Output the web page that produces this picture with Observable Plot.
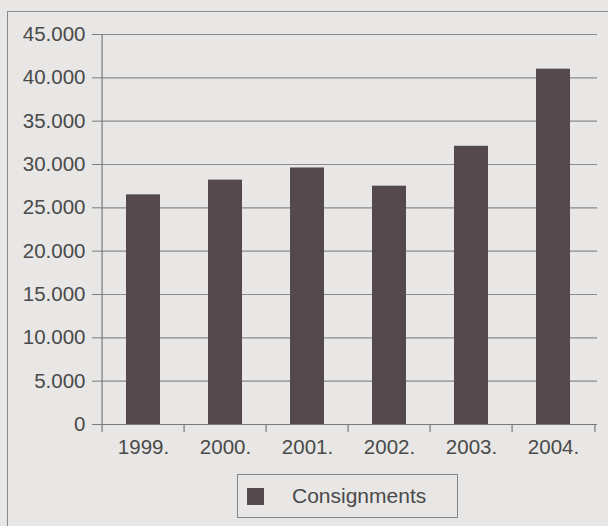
<!DOCTYPE html>
<html>
<head>
<meta charset="utf-8">
<script src="https://cdn.jsdelivr.net/npm/d3@7"></script>
<script src="https://cdn.jsdelivr.net/npm/@observablehq/plot@0.6"></script>
<style>
  html, body { margin: 0; padding: 0; background: #e8e7e5; overflow: hidden; width: 608px; height: 526px; }
  #wrap { position: relative; width: 608px; height: 526px; font-family: "Liberation Sans", Arial, sans-serif; color: #4a4a4a; }
  #frame { position: absolute; left: 7px; top: 11px; width: 800px; height: 800px; border-left: 1.5px solid #8a8a8a; border-top: 1.5px solid #8a8a8a; }
  #chart { position: absolute; left: 0; top: 0; }
  #legend { position: absolute; left: 237px; top: 474px; width: 221px; height: 44px; box-sizing: border-box; border: 1.5px solid #858585; }
  #legend .sw { position: absolute; left: 9px; top: 13px; width: 17px; height: 17px; background: #54494c; }
  #legend .lb { position: absolute; left: 54px; top: 9px; font-size: 21px; color: #4a4a4a; line-height: 24px; }
</style>
</head>
<body>
<div id="wrap">
  <div id="frame"></div>
  <div id="chart"></div>
  <div id="legend"><div class="sw"></div><div class="lb"></div></div>
</div>
<script>
const years = ["1999.", "2000.", "2001.", "2002.", "2003.", "2004."];
const consignments = [26500, 28200, 29600, 27500, 32100, 41000];
const yTicks = [0, 5000, 10000, 15000, 20000, 25000, 30000, 35000, 40000, 45000];
const seriesName = "Consignments";

const data = years.map((y, i) => ({year: y, value: consignments[i]}));
const loc = d3.formatLocale({decimal: ",", thousands: ".", grouping: [3], currency: ["", ""]});
const fmt = d => d === 0 ? "0" : loc.format(",")(d);

const W = 608, H = 466, ML = 100, MR = 11, MT = 34, MB = 42;
const step = (W - ML - MR) / years.length;

const chart = Plot.plot({
  width: W,
  height: H,
  marginLeft: ML,
  marginRight: MR,
  marginTop: MT,
  marginBottom: MB,
  style: {fontFamily: "'Liberation Sans', Arial, sans-serif", fontSize: "20px", color: "#4a4a4a", background: "transparent"},
  x: {domain: years, paddingInner: 0.58, paddingOuter: 0.29, label: null},
  y: {domain: [0, 45000], label: null},
  marks: [
    Plot.ruleY(yTicks, {y: d => d, stroke: "#8a8a8a", strokeWidth: 1.2, strokeOpacity: 1}),
    Plot.ruleX([0], {x: () => years[0], y1: 0, y2: 45000, dx: -step / 2, stroke: "#7a7a7a", strokeWidth: 1.2}),
    Plot.barY(data, {x: "year", y: "value", fill: "#54494c"}),
    Plot.ruleX(years, {x: d => d, y1: 0, y2: 0, insetBottom: -8, dx: -step / 2, stroke: "#7a7a7a", strokeWidth: 1.2}),
    Plot.ruleX([years[years.length - 1]], {x: d => d, y1: 0, y2: 0, insetBottom: -8, dx: step / 2, stroke: "#7a7a7a", strokeWidth: 1.2}),
    Plot.ruleY([0], {stroke: "#7a7a7a", strokeWidth: 1.2}),
    Plot.axisY(yTicks, {tickSize: 8, tickPadding: 7, tickFormat: fmt, stroke: "#7a7a7a", fill: "#4a4a4a", fontSize: 20.5}),
    Plot.axisX({tickSize: 0, tickPadding: 15, fill: "#4a4a4a", fontSize: 20.5})
  ]
});
document.getElementById("chart").appendChild(chart);
document.querySelector("#legend .lb").textContent = seriesName;
</script>
</body>
</html>
